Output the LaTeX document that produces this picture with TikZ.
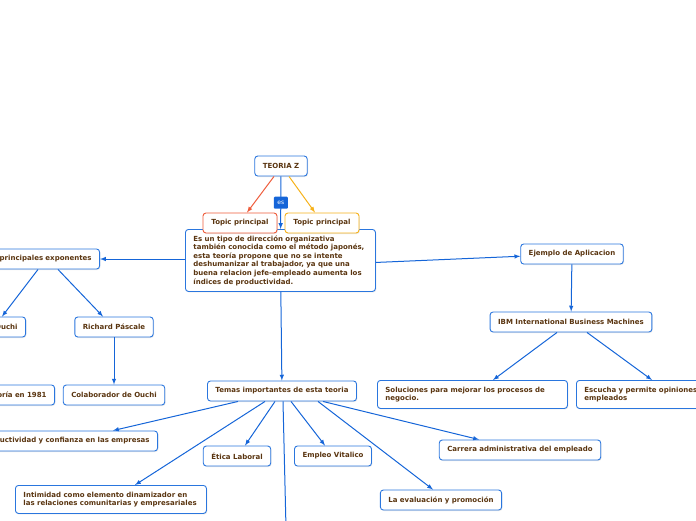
\documentclass[tikz,border=0pt]{standalone}
\usepackage{fontspec}
\setmainfont{DejaVu Sans}
\usetikzlibrary{arrows.meta, positioning, shadows}
\definecolor{linkblue}{HTML}{1565D8}
\definecolor{boxblue}{HTML}{2A76DE}
\definecolor{txtbrown}{HTML}{5A3510}
\definecolor{topicred}{HTML}{EE5B3A}
\definecolor{topicyellow}{HTML}{F6B21B}

\begin{document}
\begin{tikzpicture}[
  x=1pt, y=-1pt,
  font=\fontsize{7}{8.6}\selectfont\bfseries,
  box/.style={rectangle, draw=boxblue, line width=0.9pt, fill=white, rounded corners=3pt, text=txtbrown, minimum height=20pt, inner xsep=8pt, align=center, drop shadow={opacity=0.18, shadow xshift=0.8pt, shadow yshift=-1pt}},
  textbox/.style={box, align=left, anchor=north west},
  cutbox/.style={box, align=right, anchor=east},
  topic/.style={box, minimum width=74pt},
  eslabel/.style={rectangle, fill=linkblue, text=white, font=\fontsize{6}{7}\selectfont, minimum width=14pt, minimum height=12pt, inner sep=1pt, rounded corners=1pt},
  arrow/.style={line width=1pt, draw=linkblue, ->, >=latex}
]
\useasboundingbox (0,0) rectangle (696,520);

\node[box] (teoria) at (281,166) {TEORIA Z};
\node[textbox, text width=174pt, minimum height=62pt, inner ysep=4pt] (desc) at (185,229) {Es un tipo de dirección organizativa\\también conocida como el método japonés,\\esta teoría propone que no se intente\\deshumanizar al trabajador, ya que una\\buena relacion jefe-empleado aumenta los\\índices de productividad.};
\node[topic, draw=topicred] (topicA) at (240,223) {Topic principal};
\node[topic, draw=topicyellow] (topicB) at (322,223) {Topic principal};

% exponentes
\node[cutbox, text width=130pt] (exponentes) at (100,259) {principales exponentes};
\node[cutbox, text width=60pt] (ouchi) at (26,327) {Ouchi};
\node[box] (pascale) at (114,327) {Richard Páscale};
\node[cutbox, text width=80pt] (creador) at (55,395) {oría en 1981};
\node[box] (colaborador) at (114,395) {Colaborador de Ouchi};

% ejemplo
\node[box] (ejemplo) at (572,254) {Ejemplo de Aplicacion};
\node[box] (ibm) at (571,322) {IBM International Business Machines};
\node[textbox, text width=174pt, minimum height=28pt] (soluciones) at (377,380) {Soluciones para mejorar los procesos de\\negocio.};
\node[textbox, text width=140pt, minimum height=28pt] (escucha) at (576,380) {Escucha y permite opiniones\\empleados};

% temas
\node[box] (temas) at (282,391) {Temas importantes de esta teoria};
\node[cutbox, text width=180pt] (productividad) at (158,441) {ductividad y confianza en las empresas};
\node[box] (etica) at (237,456) {Ética Laboral};
\node[box] (empleo) at (333,456) {Empleo Vitalico};
\node[box] (carrera) at (520,450) {Carrera administrativa del empleado};
\node[box] (evaluacion) at (441,500) {La evaluación y promoción};
\node[textbox, text width=175pt, minimum height=28pt] (intimidad) at (15,485) {Intimidad como elemento dinamizador en\\las relaciones comunitarias y empresariales};
\coordinate (abajo) at (286,528);

\draw[arrow, draw=topicred] ([xshift=-7pt]teoria.south) -- ([xshift=7pt]topicA.north);
\draw[arrow, draw=topicyellow] ([xshift=8pt]teoria.south) -- ([xshift=-7pt]topicB.north);
\draw[arrow] (teoria) -- node[eslabel] (es) {es} (desc);

\draw[arrow] (desc.west |- exponentes) -- (exponentes);
\draw[arrow] ([yshift=-2pt]desc.east) -- (ejemplo);
\draw[arrow] (desc) -- (temas);

\draw[arrow] ([xshift=-62pt]exponentes.south east) -- ([xshift=-24pt]ouchi.north east);
\draw[arrow] ([xshift=-42pt]exponentes.south east) -- ([xshift=-11pt]pascale.north);
\draw[arrow] (pascale) -- (colaborador);

\draw[arrow] (ejemplo) -- (ibm);
\draw[arrow] ([xshift=-14pt]ibm.south) -- ([xshift=116pt]soluciones.north west);
\draw[arrow] ([xshift=16pt]ibm.south) -- ([xshift=76pt]escucha.north west);

\draw[arrow] ([xshift=-44pt]temas.south) -- ([xshift=-45pt]productividad.north east);
\draw[arrow] ([xshift=-17pt]temas.south) -- ([xshift=120pt]intimidad.north west);
\draw[arrow] ([xshift=-7pt]temas.south) -- ([xshift=8pt]etica.north);
\draw[arrow] ([xshift=1pt]temas.south) -- (abajo);
\draw[arrow] ([xshift=9pt]temas.south) -- ([xshift=-8pt]empleo.north);
\draw[arrow] ([xshift=36pt]temas.south) -- ([xshift=-8pt]evaluacion.north);
\draw[arrow] ([xshift=41pt]temas.south) -- ([xshift=-41pt]carrera.north);
\end{tikzpicture}
\end{document}
